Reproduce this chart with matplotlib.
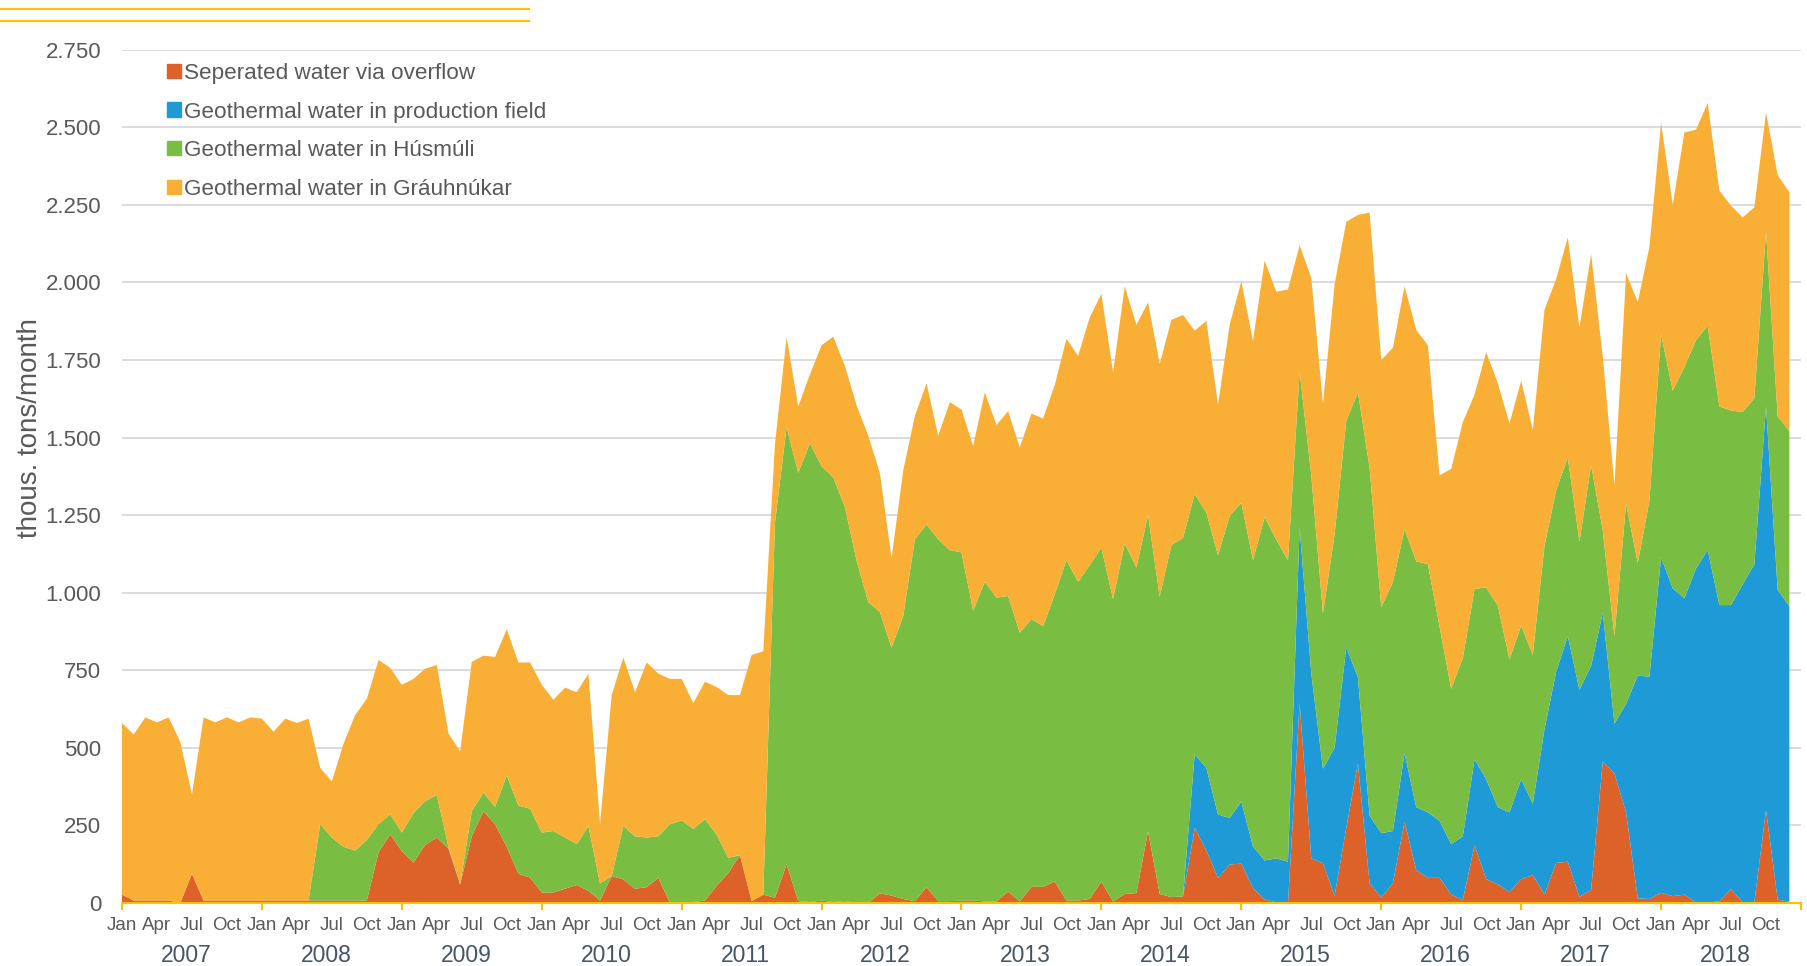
import numpy as np
import matplotlib
matplotlib.use('Agg')
import matplotlib.pyplot as plt
from matplotlib.patches import Patch
from matplotlib.lines import Line2D

plt.rcParams['font.family'] = ['Liberation Sans', 'DejaVu Sans']

# monthly values, thous. tons, Jan 2007 - Dec 2018
years = list(range(2007, 2019))
month_labels = ['Jan', 'Apr', 'Jul', 'Oct']

overflow = [
    27, 8, 8, 8, 8, 0, 94, 8, 8, 8, 8, 8,
    8, 8, 8, 8, 8, 8, 8, 8, 8, 8, 163, 221,
    167, 130, 187, 211, 175, 60, 215, 296, 254, 181, 94, 82,
    34, 34, 46, 58, 39, 8, 87, 76, 46, 51, 81, 0,
    0, 3, 8, 55, 97, 154, 6, 27, 17, 125, 6, 3,
    8, 3, 6, 0, 0, 31, 24, 13, 6, 51, 6, 6,
    8, 8, 5, 5, 37, 5, 52, 52, 69, 8, 8, 13,
    69, 5, 29, 32, 231, 29, 19, 21, 242, 169, 81, 124,
    127, 48, 12, 2, 0, 644, 144, 128, 23, 242, 450, 64,
    18, 64, 262, 106, 81, 81, 27, 10, 186, 77, 60, 35,
    77, 90, 28, 129, 133, 20, 42, 456, 418, 291, 15, 13,
    33, 22, 27, 2, 2, 5, 45, 2, 2, 300, 11, 4,
]

production_field = [0] * 84 + [
    0, 0, 0, 0, 0, 0, 0, 0, 237, 266, 204, 150,
    200, 134, 125, 142, 133, 566, 596, 305, 477, 582, 277, 218,
    207, 168, 221, 203, 211, 184, 163, 205, 277, 322, 249, 257,
    322, 230, 532, 616, 727, 667, 722, 480, 160, 351, 718, 716,
    1081, 992, 955, 1076, 1136, 955, 915, 1025, 1089, 1300, 998, 952,
]

husmuli = [0] * 12 + [
    0, 0, 0, 0, 0, 246, 203, 173, 161, 195, 91, 65,
    60, 160, 141, 137, 6, 0, 81, 60, 56, 230, 220, 222,
    193, 198, 165, 132, 209, 55, 0, 172, 169, 160, 134, 254,
    266, 236, 262, 165, 49, 0, 0, 0, 1207, 1409, 1380, 1479,
    1399, 1369, 1270, 1104, 970, 907, 799, 911, 1166, 1169, 1166, 1131,
    1122, 934, 1030, 979, 952, 866, 863, 840, 926, 1097, 1027, 1076,
    1076, 974, 1129, 1049, 1019, 958, 1134, 1156, 839, 823, 836, 973,
    963, 923, 1106, 1027, 971, 503, 638, 500, 688, 730, 919, 1121,
    728, 802, 722, 792, 800, 626, 500, 575, 549, 618, 649, 493,
    495, 480, 591, 585, 576, 477, 647, 264, 282, 645, 363, 567,
    719, 637, 745, 736, 722, 640, 627, 555, 536, 563, 560, 564,
]

grauhnukar = [
    553, 535, 590, 574, 590, 519, 256, 590, 574, 590, 574, 590,
    586, 544, 586, 572, 586, 181, 181, 332, 437, 455, 529, 472,
    476, 432, 427, 419, 365, 429, 481, 441, 483, 471, 461, 471,
    476, 423, 483, 489, 491, 191, 583, 543, 464, 564, 524, 468,
    456, 405, 443, 476, 524, 516, 793, 784, 254, 289, 214, 221,
    390, 453, 455, 500, 536, 448, 288, 469, 397, 455, 334, 477,
    460, 531, 610, 556, 596, 597, 662, 669, 674, 713, 728, 798,
    818, 731, 829, 782, 685, 750, 726, 718, 526, 618, 484, 616,
    713, 706, 827, 799, 873, 406, 637, 675, 805, 641, 571, 822,
    797, 755, 782, 746, 705, 487, 709, 760, 626, 758, 717, 760,
    789, 724, 761, 680, 709, 690, 680, 560, 485, 742, 840, 818,
    681, 599, 756, 678, 718, 696, 660, 627, 615, 384, 776, 771,
]

labels = ['Seperated water via overflow', 'Geothermal water in production field',
          'Geothermal water in Húsmúli', 'Geothermal water in Gráuhnúkar']
colors = ['#DD6229', '#1E9AD6', '#7ABD43', '#F9AF35']

GREY = '#595959'
GOLD = '#FFC000'

fig = plt.figure(figsize=(18.08, 9.66), dpi=100)
ax = fig.add_axes([122 / 1808, 1 - 903 / 966, 1679 / 1808, 853.4 / 966])

x = np.arange(len(overflow))
ax.stackplot(x, overflow, production_field, husmuli, grauhnukar, colors=colors, lw=0)

ax.set_xlim(0, len(x) - 1)
ax.set_ylim(0, 2750)

# y axis
yt = np.arange(0, 2751, 250)
ax.set_yticks(yt)
ax.set_yticklabels([f'{v:,}'.replace(',', '.') for v in yt])
ax.tick_params(axis='y', length=0, pad=15, labelsize=16, labelcolor=GREY)
ax.yaxis.grid(True, color='#D9D9D9', lw=1.3)
ax.set_axisbelow(True)
ax.set_ylabel('thous. tons/month', fontsize=20, color=GREY)
ax.yaxis.set_label_coords(-0.047, 0.556)

# x axis: quarter labels, gold ticks at each January
quarters = np.arange(0, len(x), 3)
ax.set_xticks(quarters)
ax.set_xticklabels([month_labels[(q // 3) % 4] for q in quarters])
ax.tick_params(axis='x', length=0, pad=10, labelsize=13.5, labelcolor=GREY)
ax.set_xticks(np.arange(0, len(x) + 1, 12), minor=True)
ax.xaxis.remove_overlapping_locs = False
ax.tick_params(axis='x', which='minor', length=5, width=1.5, color=GOLD)

for i, yr in enumerate(years):
    ax.text(i * 12 + 5.5, -0.062, str(yr), transform=ax.get_xaxis_transform(),
            ha='center', va='center', fontsize=16.5, color='#44546A')

for s in ['top', 'right', 'left']:
    ax.spines[s].set_visible(False)
ax.spines['bottom'].set_color(GOLD)
ax.spines['bottom'].set_linewidth(1.5)

handles = [Patch(color=c) for c in colors]
ax.legend(handles, labels, loc='upper left', bbox_to_anchor=(167 / 1808, 1 - 63 / 966),
          bbox_transform=fig.transFigure, frameon=False, fontsize=16.2, labelcolor=GREY,
          handlelength=0.6, handleheight=0.6, handletextpad=0.15, labelspacing=0.78,
          borderpad=0, borderaxespad=0)

# two gold rules in the top left corner
for yy in [8.5, 21]:
    fig.add_artist(Line2D([0, 529 / 1808], [1 - yy / 966] * 2, color=GOLD, lw=1.5))

fig.savefig('out.png', dpi=100)
